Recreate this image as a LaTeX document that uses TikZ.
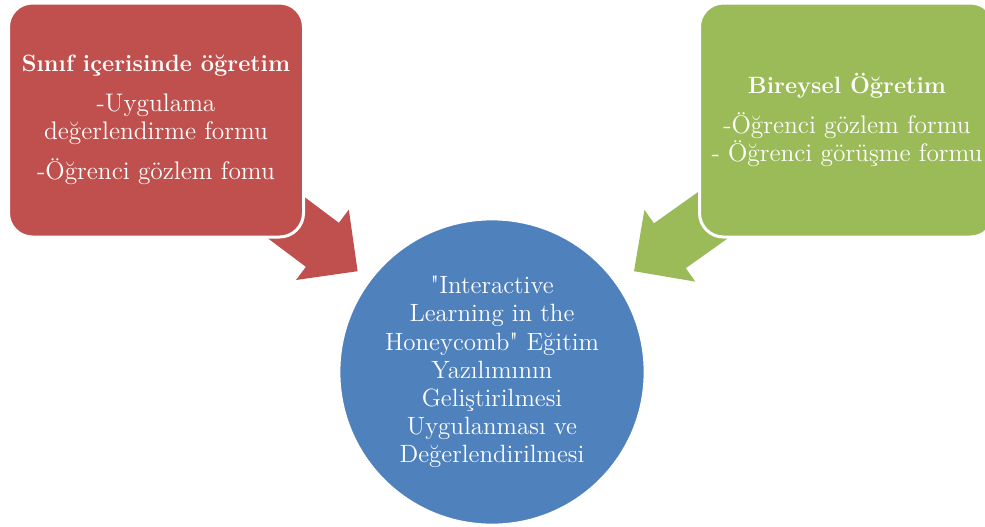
\documentclass[tikz,border=0pt]{standalone}
\usepackage{tikz}
\usetikzlibrary{calc,backgrounds}
\definecolor{boxred}{HTML}{C0504D}
\definecolor{boxgreen}{HTML}{9BBB59}
\definecolor{circblue}{HTML}{4F81BD}
\newcommand{\boxtitle}[1]{{\fontsize{11.8}{14}\selectfont\bfseries #1}}

\begin{document}
\begin{tikzpicture}[x=0.5pt,y=-0.5pt,
    box/.style={rectangle,rounded corners=12pt,draw=white,line width=1.5pt,
        minimum width=147.5pt,minimum height=117pt,text=white,align=center,
        font=\fontsize{12.7}{14}\selectfont},
    hub/.style={circle,draw=white,line width=1.5pt,fill=circblue,minimum size=151pt,
        text=white,align=center,font=\fontsize{12.5}{14.1}\selectfont}]
    \useasboundingbox (0,0) rectangle (985,526);

    %/ Boxes
    \node[box,fill=boxred] (sinif) at (156,120)
        {\boxtitle{Sınıf içerisinde öğretim}\\[6pt]-Uygulama\\değerlendirme formu\\[6pt]-Öğrenci gözlem fomu};
    \node[box,fill=boxgreen] (bireysel) at (847,120)
        {\boxtitle{Bireysel Öğretim}\\[6pt]-Öğrenci gözlem formu\\- Öğrenci görüşme formu};

    %/ Circle
    \node[hub] (yazilim) at (492,372)
        {\textquotedbl Interactive\\Learning in the\\Honeycomb\textquotedbl{} Eğitim\\Yazılımının\\Geliştirilmesi\\Uygulanması ve\\Değerlendirilmesi};

    %/ Block arrows
    \begin{scope}[on background layer]
    \foreach \from/\col in {sinif/boxred, bireysel/boxgreen} {
        \coordinate (tip) at ($(yazilim.center)!0.4!(\from.center)$);
        \fill[\col] ($(\from.center)!13.75pt!90:(tip)$)
            -- ($(tip)!25.95pt!-32:(\from.center)$)
            -- ($(tip)!31.11pt!-45:(\from.center)$)
            -- (tip)
            -- ($(tip)!31.11pt!45:(\from.center)$)
            -- ($(tip)!25.95pt!32:(\from.center)$)
            -- ($(\from.center)!13.75pt!-90:(tip)$) -- cycle;
    }
    \end{scope}
\end{tikzpicture}
\end{document}
